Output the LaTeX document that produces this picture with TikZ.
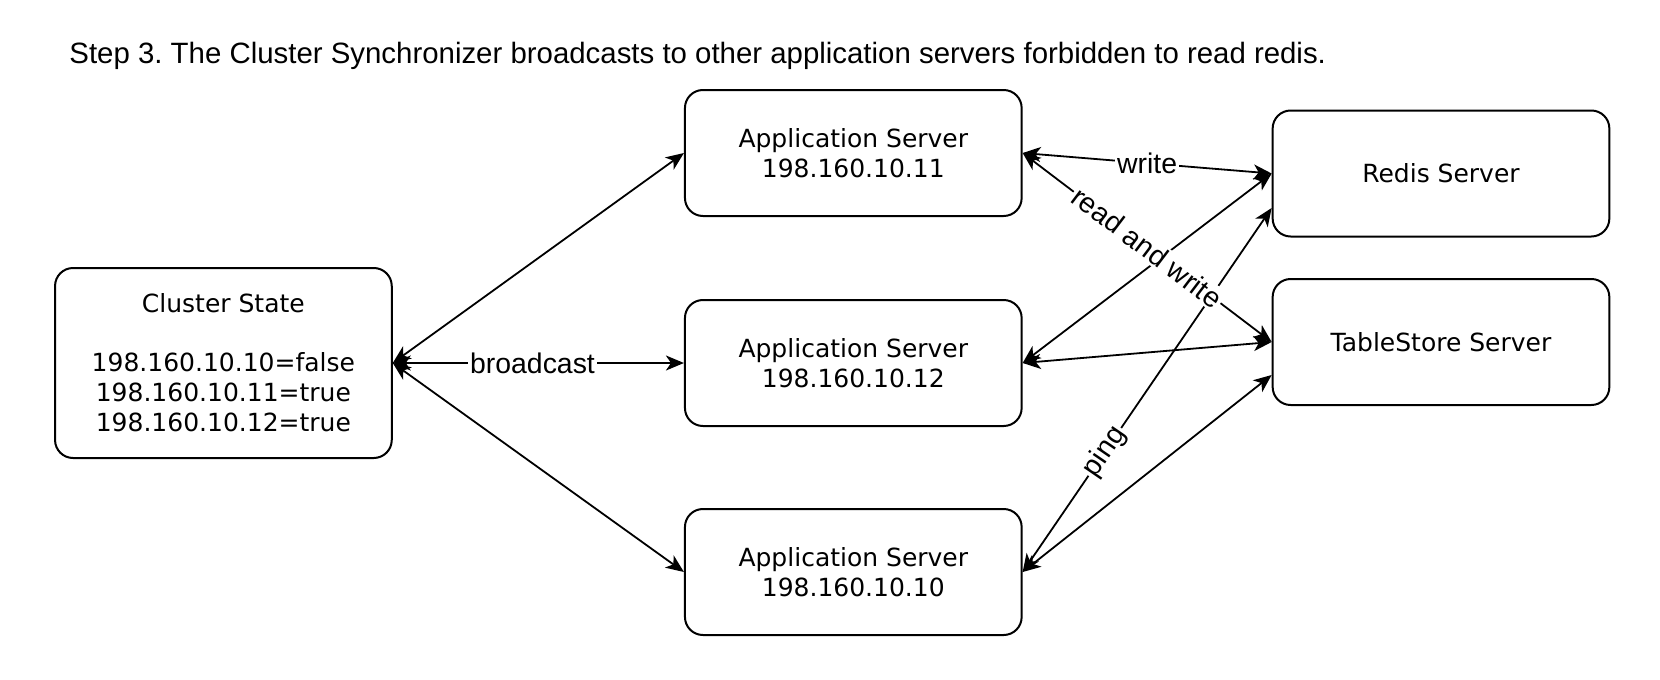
\documentclass[tikz,border=0pt]{standalone}
\usepackage{fontspec}
\setmainfont{Liberation Sans}
\newfontfamily\boxfont{DejaVu Sans}
\usetikzlibrary{arrows.meta}
\frenchspacing
\begin{document}
\begin{tikzpicture}[x=0.5pt,y=-0.5pt,
  box/.style={draw, line width=1pt, rounded corners=9pt, minimum width=168.35pt, minimum height=63pt, align=center, font=\boxfont\fontsize{12.5pt}{15pt}\selectfont, inner sep=0pt},
  conn/.style={line width=0.9pt, {Stealth[length=9pt,width=7.5pt,inset=2.5pt]}-{Stealth[length=9pt,width=7.5pt,inset=2.5pt]}},
  lbl/.style={fill=white, inner sep=1pt, font=\fontsize{14.2pt}{17pt}\selectfont}]
\useasboundingbox (0,0) rectangle (1660,680);
\node[anchor=base west, inner sep=0pt, font=\fontsize{14.7pt}{17pt}\selectfont] (title) at (69,63) {Step 3. The Cluster Synchronizer broadcasts to other application servers forbidden to read redis.};
\node[box, minimum height=95pt] (cs) at (223.4,363) {Cluster State\\[14.5pt]198.160.10.10=false\\198.160.10.11=true\\198.160.10.12=true};
\node[box] (app11) at (853.3,153) {Application Server\\198.160.10.11};
\node[box] (app12) at (853.3,363) {Application Server\\198.160.10.12};
\node[box] (app10) at (853.3,572) {Application Server\\198.160.10.10};
\node[box] (redis) at (1441,173.5) {Redis Server};
\node[box] (ts) at (1441,342) {TableStore Server};
\draw[conn] (cs.east) -- (app11.west);
\draw[conn] (cs.east) -- (app10.west);
\draw[conn] (app12.east) -- (redis.west);
\draw[conn] (app12.east) -- (ts.west);
\draw[conn] (app10.east) -- ([yshift=-16.5pt]ts.west);
\draw[conn] (app10.east) -- node[lbl, sloped, pos=0.33] (lping) {ping} ([yshift=-17.25pt]redis.west);
\draw[conn] (app11.east) -- node[lbl, sloped] (lrw) {read and write} (ts.west);
\draw[conn] (app11.east) -- node[lbl] (lw) {write} (redis.west);
\draw[conn] (cs.east) -- node[lbl, pos=0.48] (lb) {broadcast} (app12.west);
\end{tikzpicture}
\end{document}
